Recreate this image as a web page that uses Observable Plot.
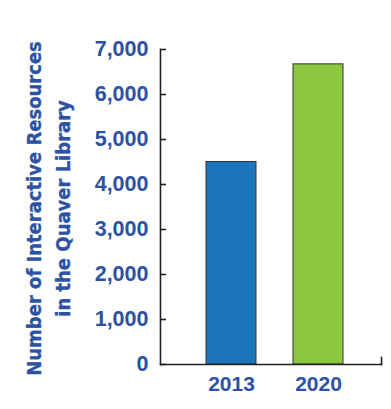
<!DOCTYPE html>
<html>
<head>
<meta charset="utf-8">
<script src="https://cdn.jsdelivr.net/npm/d3@7"></script>
<script src="https://cdn.jsdelivr.net/npm/@observablehq/plot@0.6"></script>
<style>
  html, body { margin: 0; padding: 0; background: #fff; }
</style>
</head>
<body>
<div id="chart"></div>
<script>
const years = ["2013", "2020"];
const resources = [4500, 6670];
const barColors = ["#1b75bc", "#8dc63f"];
const yTicks = [0, 1000, 2000, 3000, 4000, 5000, 6000, 7000];
const titleLines = ["Number of Interactive Resources", "in the Quaver Library"];

const data = years.map((y, i) => ({year: y, value: resources[i], color: barColors[i]}));

const W = 391, H = 409;
const mL = 160, mR = 10, mT = 49, mB = 45;
const textBlue = "#2d52a3";
const axisInk = "#222";

const chart = Plot.plot({
  width: W,
  height: H,
  marginLeft: mL,
  marginRight: mR,
  marginTop: mT,
  marginBottom: mB,
  style: {fontFamily: "'Liberation Sans', Arial, sans-serif", background: "#fff"},
  x: {domain: years, paddingInner: 0.425, paddingOuter: 0.48, align: 0.55, label: null},
  y: {domain: [0, 7000], label: null},
  marks: [
    Plot.barY(data, {x: "year", y: "value", fill: "color", stroke: "#333", strokeWidth: 1}),
    Plot.frame({anchor: "left", stroke: axisInk, strokeWidth: 1.6}),
    Plot.frame({anchor: "bottom", stroke: axisInk, strokeWidth: 1.6}),
    Plot.frame({anchor: "right", insetTop: H - mT - mB - 7, stroke: axisInk, strokeWidth: 1.6}),
    Plot.ruleY(yTicks, {y: d => d, insetRight: W - mL - mR - 6, stroke: axisInk, strokeWidth: 1.6}),
    Plot.axisY({ticks: yTicks, tickSize: 0, tickPadding: 12, tickFormat: d3.format(","), fontSize: 21.5, fontWeight: "bold", fill: textBlue, stroke: textBlue, strokeWidth: 0.4, label: null}),
    Plot.axisX({tickSize: 0, tickPadding: 12, fontSize: 21, fontWeight: "bold", fill: textBlue, stroke: textBlue, strokeWidth: 0.4, label: null}),
    Plot.text([titleLines.join("\n")], {
      frameAnchor: "left", rotate: -90, dx: -114, dy: 1.5,
      fontSize: 20, fontWeight: "bold", lineHeight: 1.45,
      fontFamily: "'DejaVu Sans Condensed', 'Liberation Sans Narrow', sans-serif",
      fill: textBlue, stroke: textBlue, strokeWidth: 0.3, textAnchor: "middle", lineAnchor: "middle"
    })
  ]
});
document.getElementById("chart").appendChild(chart);
</script>
</body>
</html>
